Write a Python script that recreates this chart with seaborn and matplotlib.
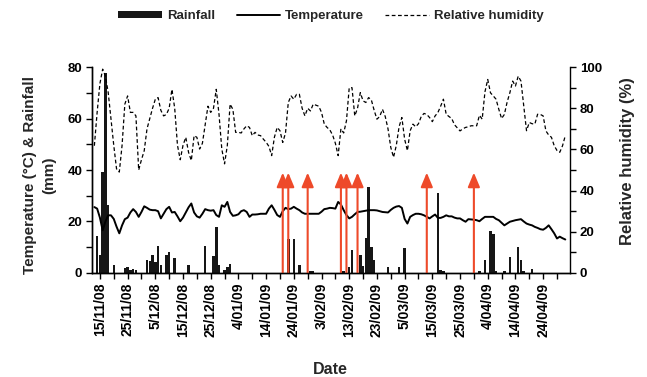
import matplotlib
matplotlib.use("Agg")
import matplotlib.pyplot as plt
import matplotlib.dates as mdates
from matplotlib.lines import Line2D
from matplotlib.patches import Patch, ArrowStyle
import seaborn as sns
import pandas as pd

# daily series, 13/11/08 to 2/05/09
START_DATE = "2008-11-13"

temperature = [
    25.6, 25.0, 21.5, 16.6, 20.0, 22.4, 22.4, 21.0, 18.0, 15.4,
    18.5, 20.9, 21.5, 23.5, 24.8, 23.7, 21.8, 23.7, 25.9, 25.3,
    24.6, 24.4, 24.4, 24.0, 21.2, 23.0, 24.8, 25.7, 23.5, 23.7,
    22.0, 20.1, 21.5, 23.5, 25.5, 27.0, 23.5, 22.0, 21.5, 23.0,
    24.8, 24.4, 24.2, 24.4, 22.5, 21.8, 26.3, 25.7, 27.6, 23.7,
    22.2, 22.4, 22.8, 24.0, 24.4, 23.7, 21.8, 22.7, 22.7, 22.8,
    23.0, 23.0, 23.0, 25.0, 26.3, 24.5, 22.5, 21.8, 24.0, 25.3,
    24.8, 25.0, 25.7, 25.0, 24.4, 23.5, 23.0, 23.0, 23.0, 23.0,
    23.0, 23.0, 23.8, 24.8, 25.0, 25.3, 25.2, 25.0, 27.6, 26.6,
    24.4, 22.5, 21.2, 21.8, 22.8, 23.7, 23.8, 24.0, 24.2, 24.4,
    24.4, 24.4, 24.3, 24.0, 23.7, 23.6, 23.5, 24.5, 25.3, 25.8,
    26.0, 25.3, 21.0, 19.2, 21.8, 22.5, 23.0, 23.0, 22.8, 22.4,
    21.8, 21.2, 22.0, 22.7, 21.4, 21.4, 21.8, 22.4, 22.0, 22.0,
    21.5, 21.2, 21.2, 20.5, 19.9, 20.9, 20.8, 20.7, 20.5, 20.1,
    21.0, 21.8, 21.8, 21.8, 21.8, 21.0, 20.5, 19.5, 18.5, 19.2,
    19.9, 20.2, 20.5, 20.7, 20.9, 20.0, 19.2, 18.8, 18.5, 17.9,
    17.5, 17.0, 16.8, 17.5, 18.5, 17.0, 15.4, 13.4, 14.1, 13.5, 13.0,
]

humidity = [
    61.8, 78.0, 92.0, 99.0, 95.6, 87.6, 75.0, 62.0, 50.6, 49.0,
    62.0, 82.0, 86.0, 78.0, 78.0, 76.3, 50.0, 55.0, 59.4, 70.0,
    75.0, 80.0, 84.4, 85.2, 79.0, 76.3, 77.0, 80.0, 89.2, 80.0,
    62.0, 55.0, 62.0, 65.9, 58.6, 54.6, 66.7, 65.9, 60.2, 63.0,
    72.0, 81.0, 78.0, 80.0, 89.2, 77.0, 60.2, 53.0, 62.0, 82.0,
    79.5, 68.3, 68.3, 68.0, 70.0, 71.5, 70.7, 66.7, 68.3, 67.0,
    66.7, 65.0, 63.5, 61.5, 57.0, 66.0, 70.7, 69.1, 63.4, 68.0,
    82.8, 86.0, 84.4, 86.8, 86.8, 80.0, 76.3, 80.0, 78.7, 82.0,
    81.5, 81.0, 78.0, 72.3, 70.7, 69.5, 67.0, 63.0, 57.0, 70.0,
    68.0, 73.9, 90.0, 90.0, 76.3, 80.0, 87.6, 83.6, 82.8, 85.2,
    84.0, 79.0, 74.7, 76.0, 79.5, 76.0, 70.0, 61.0, 56.2, 62.0,
    71.0, 75.5, 65.0, 59.4, 69.1, 72.3, 71.0, 72.5, 76.0, 77.5,
    77.0, 75.5, 73.5, 76.3, 77.9, 81.0, 84.4, 77.1, 76.0, 75.0,
    72.0, 70.5, 69.0, 70.0, 70.7, 71.0, 71.5, 71.5, 71.5, 76.6,
    74.7, 88.0, 94.0, 87.5, 86.0, 84.4, 79.5, 75.0, 77.0, 83.0,
    87.6, 93.2, 90.8, 95.6, 93.2, 81.0, 69.1, 73.1, 72.5, 72.3,
    77.1, 77.0, 76.3, 69.0, 67.0, 65.9, 61.8, 59.5, 58.6, 61.8, 66.7,
]

rainfall = [
    0, 14.3, 7.0, 39.4, 77.8, 26.6, 0, 2.9, 0, 0,
    0, 1.8, 2.2, 1.2, 1.4, 1.2, 0, 0, 0, 5.0,
    4.8, 7.0, 4.4, 10.5, 3.1, 0, 7.0, 8.3, 0, 5.7,
    0, 0, 0, 0, 3.1, 0, 0, 0, 0, 0,
    10.5, 0, 0, 6.6, 17.7, 3.1, 0, 1.2, 2.5, 3.5,
    0, 0, 0, 0, 0, 0, 0, 0, 0, 0,
    0, 0, 0, 0, 0, 0, 0, 0, 0, 0,
    13.2, 0, 13.2, 0, 2.9, 0, 0, 0, 0.8, 0.8,
    0, 0, 0, 0, 0, 0, 0, 0, 0, 0,
    0.8, 0, 2.5, 8.9, 0, 0, 7.0, 2.7, 13.7, 33.4,
    10.2, 5.0, 0, 0, 0, 0, 2.2, 0, 0, 0,
    2.2, 0, 9.8, 0, 0, 0, 0, 0, 0, 0,
    0, 0, 0, 0, 31.2, 1.2, 0.8, 0, 0, 0,
    0, 0, 0, 0, 0, 0, 0, 0, 0, 0.8,
    0, 5.0, 0, 16.4, 15.1, 0.8, 0, 0, 0.8, 0,
    6.3, 0, 0, 10.2, 5.0, 0.8, 0, 0, 1.5, 0,
    0, 0, 0, 0, 0, 0, 0, 0, 0, 0, 0,
]

# red arrows (events) and their height on the left axis
event_dates = ["2009-01-20", "2009-01-22", "2009-01-29", "2009-02-10",
               "2009-02-12", "2009-02-16", "2009-03-13", "2009-03-30"]
EVENT_HEIGHT = 39

tick_labels = ["15/11/08", "25/11/08", "5/12/08", "15/12/08", "25/12/08",
               "4/01/09", "14/01/09", "24/01/09", "3/02/09", "13/02/09",
               "23/02/09", "5/03/09", "15/03/09", "25/03/09", "4/04/09",
               "14/04/09", "24/04/09"]

sns.set_theme(style="ticks")
plt.rcParams.update({
    "font.family": ["Liberation Sans", "DejaVu Sans"],
    "font.weight": "bold",
    "axes.labelweight": "bold",
    "axes.edgecolor": "black",
    "axes.linewidth": 1.0,
    "xtick.color": "black",
    "ytick.color": "black",
})

dates = pd.date_range(START_DATE, periods=len(temperature), freq="D")
df = pd.DataFrame({"date": dates, "temperature": temperature,
                   "humidity": humidity, "rainfall": rainfall})

fig = plt.figure(figsize=(6.47, 3.77), dpi=100)
ax = fig.add_axes([0.142, 0.276, 0.739, 0.546])
ax2 = ax.twinx()

ax.bar(df["date"], df["rainfall"], width=0.9, color="#161616", linewidth=0, zorder=2)
sns.lineplot(data=df, x="date", y="temperature", ax=ax, color="black", lw=1.4, zorder=3)
sns.lineplot(data=df, x="date", y="humidity", ax=ax2, color="black", lw=0.9,
             linestyle=(0, (3, 2)))

head = ArrowStyle("-|>", head_length=0.86, head_width=0.36)
for d in pd.to_datetime(event_dates):
    xd = mdates.date2num(d)
    ax.annotate("", xy=(xd, EVENT_HEIGHT), xytext=(xd, 0),
                arrowprops=dict(arrowstyle=head, color="#ee4a2a", lw=1.5,
                                mutation_scale=10, shrinkA=0, shrinkB=0),
                zorder=4)

x0 = mdates.date2num(dates[0]) - 0.9
x1 = mdates.date2num(dates[-1]) + 1.7
ax.set_xlim(x0, x1)
ax.set_ylim(0, 80)
ax2.set_ylim(0, 100)

tick_dates = pd.to_datetime(tick_labels, format="%d/%m/%y")
ax.set_xticks(tick_dates)
ax.set_xticklabels(tick_labels, rotation=90)
ax.set_xticks(tick_dates + pd.Timedelta(days=5), minor=True)
ax.set_yticks(range(0, 81, 20))
ax.set_yticks(range(10, 80, 20), minor=True)
ax2.set_yticks(range(0, 101, 20))
ax2.set_yticks(range(10, 100, 20), minor=True)

for a in (ax, ax2):
    a.tick_params(which="both", direction="out", length=4, width=1, pad=3)
    a.tick_params(axis="y", labelsize=9.5)
    a.spines["top"].set_visible(False)
ax.tick_params(axis="x", labelsize=10)
ax.spines["right"].set_visible(False)

ax.set_xlabel("Date", fontsize=11.5, fontweight="bold")
ax.xaxis.set_label_coords(0.498, -0.432)
ax.set_ylabel("Temperature (°C) & Rainfall\n(mm)", fontsize=11, fontweight="bold",
              linespacing=1.5)
ax.yaxis.set_label_coords(-0.075, 0.476)
ax2.set_ylabel("Relative humidity (%)", fontsize=12, fontweight="bold")
ax2.yaxis.set_label_coords(1.105, 0.544)

handles = [Patch(facecolor="#161616", edgecolor="none"),
           Line2D([], [], color="black", lw=1.4),
           Line2D([], [], color="black", lw=0.9, linestyle=(0, (3, 2)))]
fig.legend(handles, ["Rainfall", "Temperature", "Relative humidity"],
           loc="center", bbox_to_anchor=(0.512, 0.957), ncol=3, frameon=False,
           handlelength=3.3, handletextpad=0.4, columnspacing=1.6, handleheight=0.45,
           prop=dict(weight="bold", size=9.5))

fig.savefig("out.png", dpi=100)
